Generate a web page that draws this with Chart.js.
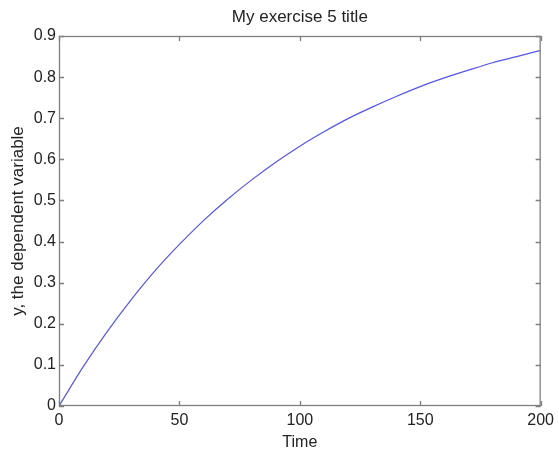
<!DOCTYPE html>
<html>
<head>
<meta charset="utf-8">
<script src="https://cdn.jsdelivr.net/npm/chart.js@4"></script>
<style>
  html, body { margin: 0; padding: 0; background: #fff; }
  #wrap { width: 559px; height: 453px; }
</style>
</head>
<body>
<div id="wrap"><canvas id="chart" width="559" height="453"></canvas></div>
<script>
// values
const timeVals = [0, 10, 20, 30, 40, 50, 60, 70, 80, 90, 100, 110, 120, 130, 140, 150, 160, 170, 180, 190, 200];
const yVals = [0, 0.095, 0.181, 0.259, 0.33, 0.393, 0.451, 0.503, 0.55, 0.593, 0.632, 0.667, 0.699, 0.727, 0.753, 0.777, 0.798, 0.817, 0.835, 0.85, 0.865];
const xTicks = [0, 50, 100, 150, 200];
const yTicks = [0, 0.1, 0.2, 0.3, 0.4, 0.5, 0.6, 0.7, 0.8, 0.9];

const axisGrey = "#7f7f7f";
const textCol = "#222";
const fontFam = "'Liberation Sans', Arial, sans-serif";
const fnt = { family: fontFam, size: 16 };
const bigFnt = { family: fontFam, size: 17 };

// box + inward tick marks like the matlab figure
const boxTicks = {
  id: "boxTicks",
  afterDraw(chart) {
    const { ctx, chartArea: a, scales } = chart;
    ctx.save();
    ctx.strokeStyle = axisGrey;
    ctx.lineWidth = 1.3;
    ctx.strokeRect(a.left + 0.5, a.top + 0.5, a.right - a.left - 1, a.bottom - a.top - 1);
    ctx.beginPath();
    xTicks.forEach(v => {
      const px = Math.round(scales.x.getPixelForValue(v)) + 0.5;
      ctx.moveTo(px, a.bottom); ctx.lineTo(px, a.bottom - 5);
      ctx.moveTo(px, a.top); ctx.lineTo(px, a.top + 5);
    });
    yTicks.forEach(v => {
      const py = Math.round(scales.y.getPixelForValue(v)) + 0.5;
      ctx.moveTo(a.left, py); ctx.lineTo(a.left + 5, py);
      ctx.moveTo(a.right, py); ctx.lineTo(a.right - 5, py);
    });
    ctx.stroke();
    ctx.restore();
  }
};

const ctx = document.getElementById("chart");
const chart = new Chart(ctx, {
  type: "line",
  data: {
    datasets: [{
      data: timeVals.map((t, i) => ({ x: t, y: yVals[i] })),
      borderColor: "rgb(85,85,230)",
      borderWidth: 1.2,
      pointRadius: 0,
      fill: false,
      cubicInterpolationMode: "monotone",
    }]
  },
  options: {
    animation: false,
    responsive: false,
    layout: { padding: 0 },
    plugins: { legend: { display: false }, tooltip: { enabled: false } },
    scales: {
      x: {
        type: "linear", min: 0, max: 200,
        afterBuildTicks: s => { s.ticks = xTicks.map(v => ({ value: v })); },
        afterFit: s => { s.height = 47; },
        ticks: { color: textCol, font: fnt, padding: 5, maxRotation: 0 },
        grid: { display: false, drawTicks: false },
        border: { display: false },
        title: { display: true, text: "Time", color: textCol, font: fnt, padding: { top: 0, bottom: 1 } }
      },
      y: {
        type: "linear", min: 0, max: 0.9,
        afterBuildTicks: s => { s.ticks = yTicks.map(v => ({ value: v })); },
        afterFit: s => { s.width = 59; },
        ticks: { color: textCol, font: fnt, padding: 3 },
        grid: { display: false, drawTicks: false },
        border: { display: false },
        title: { display: true, text: "y, the dependent variable", color: textCol, font: bigFnt, padding: { top: 8, bottom: 0 } }
      },
      top: {
        type: "linear", axis: "x", position: "top", min: 0, max: 200,
        afterFit: s => { s.height = 36; },
        ticks: { display: false },
        grid: { display: false, drawTicks: false },
        border: { display: false },
        title: { display: true, text: "My exercise 5 title", color: textCol, font: bigFnt, padding: { top: 7, bottom: 0 } }
      },
      right: {
        type: "linear", axis: "y", position: "right", min: 0, max: 0.9,
        afterFit: s => { s.width = 16; },
        ticks: { display: false },
        grid: { display: false, drawTicks: false },
        border: { display: false }
      }
    }
  },
  plugins: [boxTicks]
});
</script>
</body>
</html>
